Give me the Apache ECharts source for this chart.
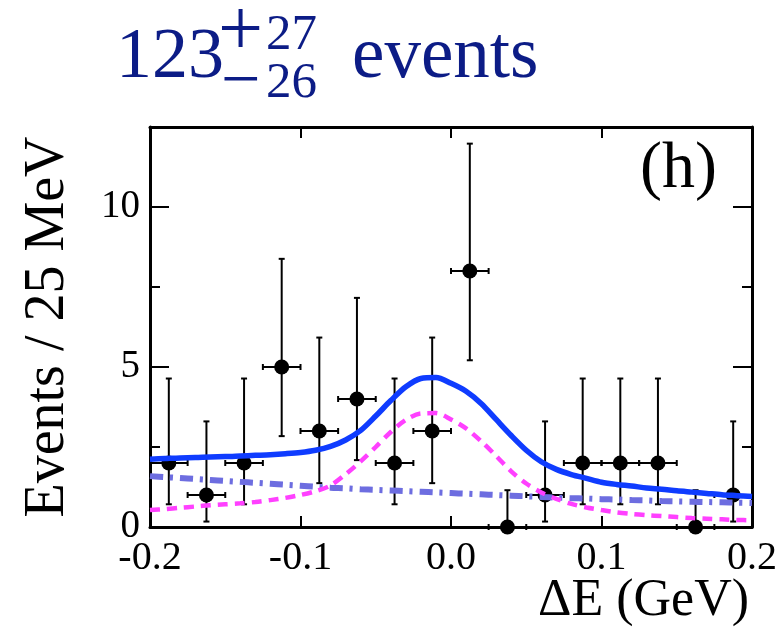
<!DOCTYPE html>
<html>
<head>
<meta charset="utf-8">
<script src="https://cdn.jsdelivr.net/npm/echarts@6/dist/echarts.min.js"></script>
<style>
  html, body { margin: 0; padding: 0; background: #ffffff; }
  #chart { width: 783px; height: 633px; }
</style>
</head>
<body>
<div id="chart"></div>
<script>
// Delta-E fit: binned data (25 MeV bins) with Poisson error bars,
// total fit, signal component and background component.
const binCenters = [-0.1875, -0.1625, -0.1375, -0.1125, -0.0875, -0.0625, -0.0375, -0.0125,
                     0.0125,  0.0375,  0.0625,  0.0875,  0.1125,  0.1375,  0.1625,  0.1875];
const binHalfWidth = 0.0125;
const counts  = [2, 1, 2, 5, 3, 4, 2, 3, 8, 0, 1, 2, 2, 2, 0, 1];
const errLow  = [0.71, 0.17, 0.71, 2.84, 1.37, 2.09, 0.71, 1.37, 5.21, 0, 0.17, 0.71, 0.71, 0.71, 0, 0.17];
const errHigh = [4.64, 3.30, 4.64, 8.38, 5.92, 7.16, 4.64, 5.92, 11.98, 1.15, 3.30, 4.64, 4.64, 4.64, 1.15, 3.30];

const curveX = [-0.20, -0.19, -0.18, -0.17, -0.16, -0.15, -0.14, -0.13, -0.12, -0.11,
                -0.10, -0.09, -0.08, -0.07, -0.06, -0.05, -0.04, -0.03, -0.02, -0.01,
                 0.00,  0.01,  0.02,  0.03,  0.04,  0.05,  0.06,  0.07,  0.08,  0.09,
                 0.10,  0.11,  0.12,  0.13,  0.14,  0.15,  0.16,  0.17,  0.18,  0.19, 0.20];
const totalFit = [2.12, 2.14, 2.16, 2.17, 2.19, 2.20, 2.22, 2.24, 2.26, 2.29,
                  2.33, 2.40, 2.52, 2.72, 3.02, 3.47, 3.95, 4.38, 4.64, 4.67,
                  4.49, 4.24, 3.86, 3.36, 2.86, 2.40, 2.04, 1.80, 1.64, 1.52,
                  1.40, 1.33, 1.28, 1.22, 1.18, 1.13, 1.09, 1.05, 1.01, 0.98, 0.95];
const signalFit = [0.53, 0.56, 0.60, 0.64, 0.68, 0.71, 0.74, 0.78, 0.84, 0.91,
                   1.00, 1.12, 1.30, 1.65, 2.05, 2.50, 2.97, 3.35, 3.55, 3.56,
                   3.36, 3.08, 2.68, 2.22, 1.74, 1.36, 1.08, 0.88, 0.72, 0.61,
                   0.53, 0.46, 0.41, 0.37, 0.34, 0.31, 0.28, 0.26, 0.24, 0.22, 0.21];
const backgroundFit = [1.59, 1.56, 1.53, 1.50, 1.47, 1.44, 1.41, 1.38, 1.35, 1.32,
                       1.29, 1.26, 1.23, 1.21, 1.18, 1.16, 1.14, 1.12, 1.10, 1.08,
                       1.06, 1.04, 1.02, 1.00, 0.98, 0.96, 0.94, 0.92, 0.90, 0.89,
                       0.87, 0.86, 0.84, 0.83, 0.81, 0.80, 0.79, 0.78, 0.77, 0.76, 0.75];

const xTicks = [-0.2, -0.1, 0.0, 0.1, 0.2];
const yTicks = [0, 5, 10];

const serif = 'Liberation Serif';
const titleColor = '#0c1c86';
const pairs = (xs, ys) => xs.map((x, i) => [x, ys[i]]);

const chart = echarts.init(document.getElementById('chart'), null, { renderer: 'canvas' });

const frameAxisLine = { show: true, onZero: false, lineStyle: { color: '#000', width: 3 } };
const xTick = { show: true, inside: true, length: 11, lineStyle: { color: '#000', width: 2 } };
const yTick = { show: true, inside: true, length: 19, lineStyle: { color: '#000', width: 2 } };
const yMinor = { show: true, splitNumber: 2, length: 10, lineStyle: { color: '#000', width: 2 } };

const textEl = (x, y, text, size, color, align) => ({
  type: 'text', x, y,
  style: { text, fill: color, font: size + 'px "Liberation Serif"', verticalAlign: 'middle', align }
});

const option = {
  animation: false,
  backgroundColor: '#ffffff',
  grid: { left: 150, right: 31, top: 127, bottom: 106, containLabel: false, outerBoundsMode: 'none' },
  xAxis: [
    {
      type: 'value', min: -0.2, max: 0.2, interval: 0.1, position: 'bottom',
      axisLine: frameAxisLine, axisTick: xTick,
      splitLine: { show: false },
      axisLabel: {
        show: true, margin: 11, color: '#000', fontFamily: serif, fontSize: 40,
        formatter: v => (xTicks.some(t => Math.abs(t - v) < 1e-9) ? v.toFixed(1) : '')
      }
    },
    {
      type: 'value', min: -0.2, max: 0.2, interval: 0.1, position: 'top',
      axisLine: frameAxisLine, axisTick: xTick,
      splitLine: { show: false }, axisLabel: { show: false }
    }
  ],
  yAxis: [
    {
      type: 'value', min: 0, max: 12.5, interval: 5, position: 'left',
      axisLine: frameAxisLine, axisTick: yTick, minorTick: yMinor,
      splitLine: { show: false }, minorSplitLine: { show: false },
      axisLabel: {
        show: true, margin: 10, color: '#000', fontFamily: serif, fontSize: 39, showMaxLabel: false,
        formatter: v => (yTicks.indexOf(v) >= 0 ? String(v) : '')
      },
      name: 'Events / 25 MeV', nameLocation: 'middle', nameGap: 74,
      nameTextStyle: { fontFamily: serif, fontSize: 56, color: '#000' }
    },
    {
      type: 'value', min: 0, max: 12.5, interval: 5, position: 'right',
      axisLine: frameAxisLine, axisTick: yTick, minorTick: yMinor,
      splitLine: { show: false }, minorSplitLine: { show: false },
      axisLabel: { show: false }
    }
  ],
  series: [
    {
      // error bars: vertical Poisson interval and horizontal bin width, with small end caps
      type: 'custom',
      xAxisIndex: 0, yAxisIndex: 0,
      clip: false,
      z: 2,
      data: binCenters.map((x, i) => [x, counts[i], errLow[i], errHigh[i]]),
      renderItem: function (params, api) {
        const x = api.value(0), y = api.value(1), lo = api.value(2), hi = api.value(3);
        const pTop = api.coord([x, hi]);
        const pBot = api.coord([x, lo]);
        const pL = api.coord([x - binHalfWidth, y]);
        const pR = api.coord([x + binHalfWidth, y]);
        const cap = 3;
        const st = { stroke: '#000', lineWidth: 2 };
        const seg = (x1, y1, x2, y2) => ({ type: 'line', shape: { x1, y1, x2, y2 }, style: st });
        return {
          type: 'group',
          children: [
            seg(pTop[0], pTop[1], pBot[0], pBot[1]),
            seg(pTop[0] - cap, pTop[1], pTop[0] + cap, pTop[1]),
            seg(pBot[0] - cap, pBot[1], pBot[0] + cap, pBot[1]),
            seg(pL[0], pL[1], pR[0], pR[1]),
            seg(pL[0], pL[1] - cap, pL[0], pL[1] + cap),
            seg(pR[0], pR[1] - cap, pR[0], pR[1] + cap)
          ]
        };
      }
    },
    {
      type: 'scatter',
      xAxisIndex: 0, yAxisIndex: 0,
      clip: false,
      z: 3,
      symbol: 'circle', symbolSize: 15,
      itemStyle: { color: '#000', opacity: 1 },
      data: pairs(binCenters, counts)
    },
    {
      name: 'background', type: 'line', xAxisIndex: 0, yAxisIndex: 0, z: 4,
      showSymbol: false, smooth: 0.3,
      lineStyle: { color: '#6d6de0', width: 6, type: [13, 7, 3, 7], cap: 'butt' },
      data: pairs(curveX, backgroundFit)
    },
    {
      name: 'signal', type: 'line', xAxisIndex: 0, yAxisIndex: 0, z: 5,
      showSymbol: false, smooth: 0.3,
      lineStyle: { color: '#ff40ff', width: 4.5, type: [10, 7], cap: 'butt' },
      data: pairs(curveX, signalFit)
    },
    {
      name: 'total', type: 'line', xAxisIndex: 0, yAxisIndex: 0, z: 6,
      showSymbol: false, smooth: 0.3,
      lineStyle: { color: '#0f3cff', width: 5.5 },
      data: pairs(curveX, totalFit)
    }
  ],
  graphic: [
    // yield title: 123 (+27 / -26) events
    textEl(116, 58, '123', 72, titleColor, 'left'),
    textEl(218, 34, '+', 80, titleColor, 'left'),
    textEl(266, 36, '27', 51, titleColor, 'left'),
    textEl(221, 84, '−', 70, titleColor, 'left'),
    textEl(266, 84, '26', 51, titleColor, 'left'),
    textEl(352, 58, 'events', 73, titleColor, 'left'),
    // panel label
    textEl(717, 170, '(h)', 66, '#000', 'right'),
    // x-axis title
    textEl(749, 601, 'ΔE (GeV)', 52, '#000', 'right')
  ]
};

chart.setOption(option);
</script>
</body>
</html>
